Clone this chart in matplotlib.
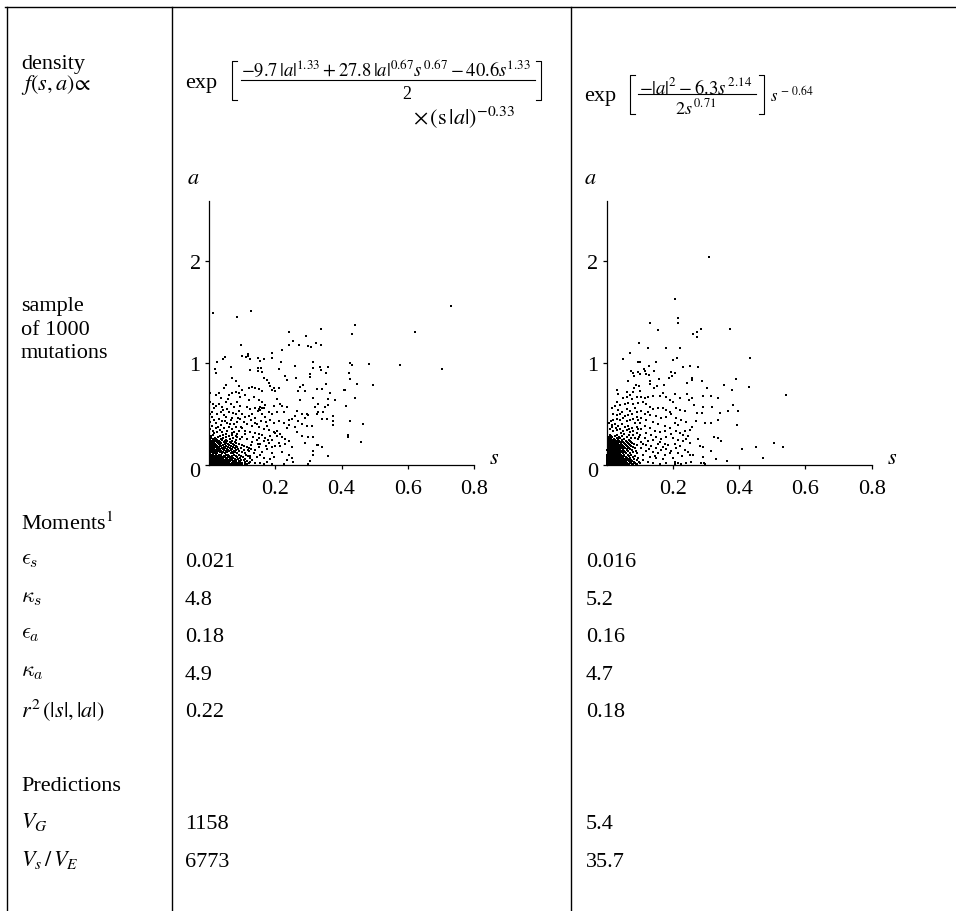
import numpy as np
import matplotlib
matplotlib.use('Agg')
import matplotlib.pyplot as plt
from matplotlib.transforms import ScaledTranslation

plt.rcParams['font.family'] = ['Liberation Serif', 'DejaVu Serif']
plt.rcParams['mathtext.fontset'] = 'stix'

#################
# Sample points #
#################
# (s, a) of the points that can be told apart
left_pts = [
 (.011,1.49),(.086,1.45),(.126,1.51),(.731,1.56),(.621,1.30),(.442,1.37),(.431,1.28),(.339,1.33),(.241,1.30),(.293,1.26),
 (.253,1.21),(.273,1.17),(.243,1.17),(.299,1.16),(.307,1.15),(.322,1.19),(.337,1.17),(.096,1.17),(.117,1.09),(.119,1.07),
 (.1,1.07),(.112,1.06),(.124,1.04),(.19,1.10),(.189,1.05),(.22,1.13),(.048,1.06),(.043,1.04),(.023,1.01),(.149,1.05),
 (.154,1.02),(.166,1.04),(.218,1.01),(.26,.97),(.314,1.01),(.427,1.0),(.431,.98),(.482,.99),(.578,.98),(.704,.94),
 (.018,.94),(.02,.90),(.065,.96),(.125,.93),(.148,.95),(.157,.95),(.148,.92),(.16,.91),(.211,.94),(.23,.87),
 (.235,.83),(.263,.85),(.313,.95),(.305,.89),(.305,.86),(.335,.96),(.337,.93),(.359,.96),(.354,.90),(.423,.90),
 (.427,.84),(.446,.79),(.495,.78),(.409,.73),(.411,.73),(.354,.79),
 (.20,.72),(.21,.75),(.205,.64),(.22,.58),(.215,.60),(.205,.52),(.225,.52),(.235,.57),(.24,.44),(.25,.45),
 (.21,.43),(.225,.41),(.24,.39),(.26,.37),(.235,.36),(.205,.33),(.2,.31),(.215,.3),(.22,.27),(.23,.25),
 (.21,.21),(.2,.18),(.23,.2),(.24,.23),(.25,.17),(.24,.1),(.25,.07),(.235,.05),(.255,.03),(.225,.01),
 (.27,.72),(.275,.76),(.285,.78),(.29,.72),(.275,.63),(.265,.53),(.26,.48),(.28,.5),(.29,.46),(.295,.5),
 (.3,.49),(.27,.43),(.28,.4),(.295,.38),(.31,.38),(.265,.32),(.28,.28),(.3,.27),(.315,.27),(.29,.21),
 (.325,.19),(.33,.19),(.34,.17),(.315,.13),(.315,.1),(.36,.09),(.305,.04),(.3,.01),(.315,.65),(.325,.74),
 (.34,.74),(.33,.6),(.32,.57),(.33,.52),(.345,.52),(.325,.5),(.34,.45),(.355,.45),(.36,.64),(.365,.7),
 (.36,.59),(.375,.48),(.375,.43),(.375,.39),(.38,.63),(.35,.57),(.425,.43),(.465,.4),(.42,.29),(.42,.27),
 (.46,.22),(.415,.58),(.44,.65),
 (.1,.73),(.11,.68),(.12,.75),(.13,.76),(.14,.75),(.15,.74),(.16,.72),(.175,.83),(.18,.8),(.185,.77),
 (.19,.73),(.195,.75),(.165,.85),(.12,.63),(.135,.66),(.15,.63),(.16,.62),(.17,.59),(.115,.57),(.125,.55),
 (.14,.56),(.15,.55),(.155,.54),(.165,.56),(.18,.52),(.19,.5),(.195,.58),(.1,.5),(.11,.47),(.12,.48),
 (.13,.5),(.14,.46),(.16,.5),(.17,.47),(.185,.44),(.105,.42),(.115,.4),(.13,.38),(.145,.4),(.15,.37),
 (.165,.35),(.175,.38),(.18,.34),(.195,.41),(.1,.36),(.11,.33),(.125,.32),(.14,.31),(.15,.3),(.16,.29),
 (.17,.26),(.185,.28),(.19,.24),(.195,.32),(.1,.27),(.115,.25),(.13,.22),(.145,.24),(.155,.2),(.165,.23),
 (.18,.21),(.19,.17),(.105,.18),(.12,.16),(.14,.14),(.15,.17),(.16,.12),(.175,.15),(.19,.11),(.11,.11),
 (.125,.09),(.145,.08),(.165,.07),(.185,.06),(.195,.08),(.105,.05),(.125,.03),(.14,.02),(.155,.02),(.175,.03),
 (.19,.01),(.115,.01),(.165,.01),
 (.155,.57),(.16,.56),(.148,.53),(.128,.44),(.138,.41),(.158,.43),(.173,.42),(.108,.3),(.133,.27),(.152,.26),
 (.178,.24),(.128,.19),(.148,.2),(.172,.18),(.118,.14),(.135,.11),(.155,.1),(.205,.28),(.215,.18),(.22,.12),
 (.07,.85),(.08,.82),(.09,.77),(.05,.78),(.045,.75),(.03,.7),(.02,.68),(.035,.65),(.05,.62),(.06,.68),
 (.07,.7),(.08,.71),(.09,.7),(.095,.66),(.03,.6),(.02,.58),(.015,.56),(.04,.57),(.055,.55),(.065,.6),
 (.075,.57),(.085,.62),(.095,.58),(.01,.52),(.025,.5),(.035,.52),(.045,.49),(.05,.47),(.06,.52),(.07,.46),
 (.08,.5),(.09,.53),(.015,.44),(.03,.45),(.04,.43),(.055,.41),(.065,.44),(.075,.4),(.085,.42),(.095,.45),
 (.01,.38),(.02,.36),(.035,.39),(.045,.36),(.055,.33),(.06,.37),(.07,.35),(.08,.37),(.09,.33),(.098,.37),
 (.003,.7),(.002,.62),(.004,.5),(.002,.42),(.003,.35),(.012,.33),(.025,.32),(.04,.32),(.075,.32),(.085,.3),
 (.008,.47),(.022,.41),(.028,.37),(.048,.43),(.062,.4),(.068,.31),(.016,.31),(.033,.34),(.05,.3),(.082,.28),
 (.043,.54),(.072,.51),(.088,.46),(.012,.6),(.058,.64),
]
right_pts = [
 (.31,2.04),(.205,1.63),(.214,1.44),(.214,1.39),(.131,1.39),(.156,1.32),(.372,1.33),(.284,1.33),(.273,1.30),(.262,1.28),
 (.273,1.25),(.099,1.19),(.125,1.14),(.07,1.10),(.178,1.14),(.22,1.14),(.211,1.05),(.433,1.05),(.048,1.04),(.2,1.03),
 (.095,1.01),(.1,1.01),(.15,1.01),(.128,.97),(.23,.96),(.252,.97),(.275,.96),(.117,.92),(.144,.92),(.074,.92),
 (.112,.94),(.095,.91),(.08,.9),(.083,.87),(.1,.89),(.127,.88),(.119,.89),(.194,.91),(.207,.9),(.189,.85),
 (.198,.87),(.257,.85),(.257,.83),(.389,.84),(.287,.82),(.241,.8),(.131,.82),(.132,.79),(.159,.84),(.065,.82),
 (.353,.78),(.172,.78),(.152,.77),(.143,.75),(.43,.76),(.302,.75),(.378,.73),(.541,.68),(.032,.73),(.088,.78),
 (.097,.77),(.083,.75),(.1,.72),(.06,.71),(.078,.71),(.07,.68),(.205,.69),(.222,.65),(.241,.69),(.257,.65),
 (.247,.63),(.292,.67),(.314,.67),(.336,.65),(.319,.57),(.292,.57),(.265,.59),(.287,.51),(.274,.51),(.382,.59),
 (.367,.53),(.397,.53),(.341,.51),(.392,.39),(.337,.44),(.314,.41),(.297,.41),(.27,.43),(.257,.37),(.252,.34),
 (.236,.33),(.277,.25),(.323,.27),(.337,.26),(.346,.23),(.282,.18),(.29,.17),(.408,.15),(.315,.13),(.451,.17),
 (.506,.21),(.531,.17),(.471,.07),(.363,.04),(.329,.06),(.29,.08),(.262,.1),(.252,.1),(.226,.09),(.2,.07),
 (.285,.016),(.295,.016),(.297,.01),
 (.105,.66),(.115,.65),(.125,.66),(.14,.67),(.16,.67),(.17,.7),(.18,.66),(.19,.63),(.2,.62),(.11,.62),
 (.12,.6),(.13,.57),(.14,.55),(.155,.56),(.17,.56),(.18,.54),(.19,.52),(.21,.56),(.22,.54),(.235,.53),
 (.105,.53),(.115,.5),(.125,.52),(.13,.49),(.15,.48),(.165,.46),(.18,.47),(.195,.5),(.21,.46),(.225,.44),
 (.24,.42),(.105,.46),(.12,.44),(.14,.42),(.155,.4),(.175,.38),(.19,.36),(.205,.41),(.215,.39),(.1,.41),
 (.115,.38),(.13,.36),(.145,.33),(.16,.32),(.175,.33),(.195,.3),(.21,.33),(.22,.31),(.23,.29),(.245,.28),
 (.105,.35),(.12,.31),(.135,.29),(.15,.27),(.165,.25),(.18,.27),(.2,.26),(.215,.24),(.23,.23),(.24,.25),
 (.25,.21),(.1,.29),(.115,.26),(.125,.23),(.14,.24),(.155,.2),(.17,.17),(.185,.19),(.205,.2),(.22,.18),
 (.105,.22),(.12,.19),(.135,.18),(.15,.16),(.165,.14),(.18,.15),(.195,.13),(.21,.16),(.235,.14),(.245,.12),
 (.105,.16),(.12,.13),(.14,.12),(.155,.11),(.175,.1),(.19,.11),(.215,.11),(.11,.1),(.13,.08),(.15,.07),
 (.17,.06),(.205,.03),(.215,.02),(.24,.02),(.255,.03),(.11,.05),(.125,.03),(.14,.02),(.16,.01),(.18,.02),
 (.205,.01),(.225,.01),(.1,.02),
 (.035,.69),(.05,.65),(.06,.66),(.075,.64),(.09,.66),(.03,.62),(.04,.59),(.055,.6),(.065,.61),(.08,.6),
 (.095,.61),(.015,.56),(.025,.58),(.035,.54),(.045,.52),(.06,.55),(.07,.53),(.085,.56),(.09,.52),(.02,.5),
 (.03,.49),(.04,.5),(.055,.48),(.065,.49),(.075,.5),(.09,.47),(.095,.44),(.012,.43),(.02,.44),(.03,.45),
 (.04,.44),(.05,.46),(.06,.43),(.07,.44),(.08,.45),(.085,.41),(.015,.39),(.025,.4),(.035,.38),(.045,.4),
 (.055,.37),(.065,.38),(.075,.36),(.09,.37),(.095,.35),(.01,.35),(.02,.33),(.03,.34),(.04,.35),(.05,.33),
 (.06,.34),(.07,.32),(.08,.33),(.09,.31),
 (.008,.41),(.017,.37),(.027,.36),(.042,.31),(.052,.3),(.068,.35),(.078,.29),(.098,.27),(.085,.26),(.11,.2),
 (.128,.15),(.145,.09),(.16,.22),(.175,.2),
]

# the solid corner: a level, then the s values found at that level
left_corner_a = [.005,.01,.02,.03,.04,.05,.06,.07,.08,.09,.10,.11,.12,.13,.14,.15,.16,.17,.18,.19,.20,.21,.22,.23,.24,.25,.26,.27,.28,.29]
left_corner_s = [
 [.004,.012,.02,.028,.036,.044,.05,.058,.066,.074,.082,.09,.1,.11],
 [.002,.009,.016,.024,.031,.039,.047,.055,.062,.07,.079,.086,.095],
 [.005,.013,.019,.027,.034,.041,.052,.06,.068,.077,.088,.101,.12],
 [.003,.01,.017,.025,.033,.04,.049,.057,.071,.083,.093,.108],
 [.006,.014,.021,.029,.037,.046,.054,.064,.075,.09,.115],
 [.002,.008,.015,.023,.03,.039,.048,.059,.069,.08,.098,.13],
 [.005,.012,.019,.026,.035,.043,.053,.062,.078,.087,.11],
 [.003,.01,.018,.024,.032,.041,.05,.067,.073,.094,.125],
 [.007,.014,.022,.03,.038,.047,.056,.063,.084,.104],
 [.002,.009,.016,.027,.034,.045,.06,.07,.081,.097,.118],
 [.006,.013,.02,.029,.037,.05,.058,.076,.09,.112],
 [.003,.011,.018,.025,.04,.047,.065,.072,.085,.135],
 [.008,.015,.023,.032,.043,.055,.068,.079,.1],
 [.002,.01,.019,.028,.036,.05,.061,.074,.092,.122],
 [.005,.014,.021,.031,.044,.057,.066,.082,.106],
 [.003,.012,.024,.034,.041,.053,.07,.088,.128],
 [.007,.016,.027,.038,.049,.063,.077,.096],
 [.002,.011,.02,.03,.045,.056,.072,.086,.114],
 [.006,.015,.025,.036,.052,.067,.081],
 [.004,.013,.022,.033,.042,.06,.075,.099],
 [.002,.009,.018,.03,.047,.058,.071,.09],
 [.006,.016,.026,.037,.05,.065,.083],
 [.003,.012,.023,.034,.044,.062,.078],
 [.008,.019,.03,.048,.055,.07],
 [.004,.014,.025,.039,.052,.08],
 [.002,.011,.021,.035,.063,.093],
 [.007,.017,.043,.072],
 [.003,.026,.05,.085],
 [.006,.033,.06],
 [.011,.041,.07],
]
right_corner_a = [.005,.01,.02,.03,.04,.05,.06,.07,.08,.09,.10,.11,.12,.13,.14,.15,.16,.17,.18,.19,.20,.21,.22,.23,.24,.25,.26,.27,.28,.29]
right_corner_s = [
 [.002,.006,.011,.016,.021,.026,.031,.036,.041,.047,.052,.06,.068,.079,.092],
 [.004,.009,.013,.018,.023,.028,.033,.039,.044,.05,.057,.065,.075,.087],
 [.002,.007,.011,.015,.02,.025,.03,.035,.04,.046,.054,.062,.072,.084],
 [.005,.009,.013,.017,.022,.027,.032,.038,.043,.049,.058,.07,.081,.098],
 [.002,.007,.011,.016,.02,.024,.029,.034,.04,.047,.055,.066,.077],
 [.004,.008,.013,.018,.022,.026,.031,.037,.044,.052,.061,.073,.09],
 [.002,.006,.01,.015,.019,.024,.028,.033,.039,.046,.056,.068,.082],
 [.004,.008,.012,.017,.021,.026,.03,.036,.042,.05,.06,.071,.095],
 [.002,.006,.011,.015,.019,.023,.028,.034,.041,.048,.057,.078],
 [.004,.009,.013,.017,.022,.027,.032,.038,.045,.053,.066,.086],
 [.002,.007,.011,.016,.02,.025,.03,.036,.043,.051,.063,.074],
 [.005,.009,.014,.018,.023,.028,.034,.04,.049,.059,.069,.092],
 [.003,.007,.012,.016,.021,.026,.032,.038,.046,.056,.08],
 [.005,.01,.014,.019,.024,.029,.035,.044,.053,.065,.088],
 [.002,.008,.012,.017,.022,.027,.033,.041,.05,.062,.076],
 [.005,.01,.015,.02,.025,.031,.039,.048,.06,.07],
 [.003,.008,.013,.018,.023,.029,.036,.045,.056,.067,.084],
 [.006,.011,.016,.021,.027,.034,.043,.053,.064,.078],
 [.003,.008,.013,.019,.025,.032,.04,.05,.061,.073],
 [.006,.011,.016,.022,.03,.038,.047,.058,.07,.09],
 [.003,.009,.014,.02,.027,.035,.044,.055,.066,.081],
 [.006,.012,.018,.025,.033,.042,.052,.063,.075],
 [.004,.009,.015,.023,.031,.04,.05,.06,.072],
 [.007,.013,.02,.028,.037,.047,.058,.069],
 [.004,.01,.017,.026,.035,.045,.066],
 [.007,.014,.023,.033,.053,.094],
 [.005,.012,.03,.04,.074],
 [.008,.016,.037,.06],
 [.013,.024,.046],
 [.009,.031,.067],
]

s_ticks = [0.2, 0.4, 0.6, 0.8]
s_tick_labels = ['0.2', '0.4', '0.6', '0.8']
a_ticks = [0, 1, 2]
a_tick_labels = ['0', '1', '2']
a_top = 2.59

row_labels = [r'$\epsilon_s$', r'$\kappa_s$', r'$\epsilon_a$', r'$\kappa_a$']
left_moments = ['0.021', '4.8', '0.18', '4.9', '0.22']
right_moments = ['0.016', '5.2', '0.16', '4.7', '0.18']
left_pred = ['1158', '6773']
right_pred = ['5.4', '35.7']

W, H = 956, 912
FS = 16

def collect(pts, corner_a, corner_s):
    xs = [p[0] for p in pts]
    ys = [p[1] for p in pts]
    for a, row in zip(corner_a, corner_s):
        xs.extend(row)
        ys.extend([a] * len(row))
    return np.array(xs), np.array(ys)

def sample_panel(x0, pts, corner_a, corner_s):
    ax = fig.add_axes([x0 / W, (H - 465.7) / H, 265.0 / W, 264.0 / H])
    xs, ys = collect(pts, corner_a, corner_s)
    ax.scatter(xs, ys, s=1.0, marker='s', c='k', linewidths=0, clip_on=False)
    ax.set_xlim(0, 0.8)
    ax.set_ylim(0, a_top)
    ax.set_xticks(s_ticks, s_tick_labels)
    ax.set_yticks(a_ticks, a_tick_labels)
    ax.tick_params(length=3, width=0.9, labelsize=FS, pad=3)
    ax.tick_params(axis='x', pad=7)
    ax.spines['top'].set_visible(False)
    ax.spines['right'].set_visible(False)
    ax.spines['left'].set_linewidth(0.9)
    ax.spines['bottom'].set_linewidth(0.9)
    ax.patch.set_alpha(0)
    # the 0 sits a little under the axis in the original
    lab0 = ax.get_yticklabels()[0]
    lab0.set_transform(lab0.get_transform() + ScaledTranslation(0, -4 / 100, fig.dpi_scale_trans))
    return ax

def bracket(bg, x, y0, y1, side):
    # side=1 opens to the right, side=-1 opens to the left
    bg.plot([x + side * 5, x, x, x + side * 5], [y0, y0, y1, y1], color='k', lw=0.8)

fig = plt.figure(figsize=(W / 100, H / 100), dpi=100)

# full-figure layer in pixel units for the table rules and text
bg = fig.add_axes([0, 0, 1, 1])
bg.set_xlim(0, W)
bg.set_ylim(H, 0)
bg.axis('off')

bg.plot([5, W], [8, 8], color='k', lw=1.0)
for x in [7, 172.5, 571.5]:
    bg.plot([x, x], [8, H], color='k', lw=1.0)

def put(x, y, txt, size=FS, **kw):
    # plain text sits a bit high with va='center'
    if '$' not in txt:
        y = y + 2.5
    bg.text(x, y, txt, fontsize=size, va='center', ha=kw.pop('ha', 'left'), **kw)

# first row
put(21, 62, 'density')
put(21, 85, r'$f(s,a)\!\propto$')
put(185, 81, 'exp')
put(386, 70, r'$-9.7\,|a|^{1.33}+27.8\,|a|^{0.67}s^{\,0.67}-40.6s^{1.33}$', size=13.4, ha='center')
bg.plot([241, 535], [81, 81], color='k', lw=0.8)
put(407, 92, '2', size=13, ha='center')
bracket(bg, 232, 62, 101, 1)
bracket(bg, 541, 62, 101, -1)
put(413, 117, r'$\times\,(\mathrm{s}\,|a|)^{-0.33}$')
put(584, 94, 'exp')
put(696, 87, r'$-|a|^{2}-6.3s^{\,2.14}$', size=13.4, ha='center')
bg.plot([638, 756], [95, 95], color='k', lw=0.8)
put(696, 108, r'$2s^{\,0.71}$', size=13, ha='center')
bracket(bg, 630, 76, 115, 1)
bracket(bg, 764, 76, 115, -1)
put(770, 96, r'$s^{\,-\,0.64}$', size=12)

# sample row
put(21, 304, 'sample')
put(21, 328, 'of 1000')
put(21, 351, 'mutations')
put(187, 180, '$a$')
put(584, 180, '$a$')
put(489, 460, '$s$')
put(887, 460, '$s$')

ax_l = sample_panel(209, left_pts, left_corner_a, left_corner_s)
ax_r = sample_panel(606.7, right_pts, right_corner_a, right_corner_s)

# moments
put(21, 524, 'Moments$^{1}$')
ys = [560, 598, 635, 673]
for y, lab in zip(ys, row_labels):
    bg.text(21, y, lab, fontsize=FS, va='center', math_fontfamily='cm')
put(21, 710, r'$r^{2}\,(|s|,|a|)$')
for y, a, b in zip(ys + [710], left_moments, right_moments):
    put(185, y, a)
    put(586, y, b)

# predictions
put(21, 784, 'Predictions')
put(21, 822, '$V_G$')
put(21, 860, '$V_s\\,/\\,V_E$')
for y, a, b in zip([822, 860], left_pred, right_pred):
    put(185, y, a)
    put(586, y, b)

fig.savefig('out.png', dpi=100)
